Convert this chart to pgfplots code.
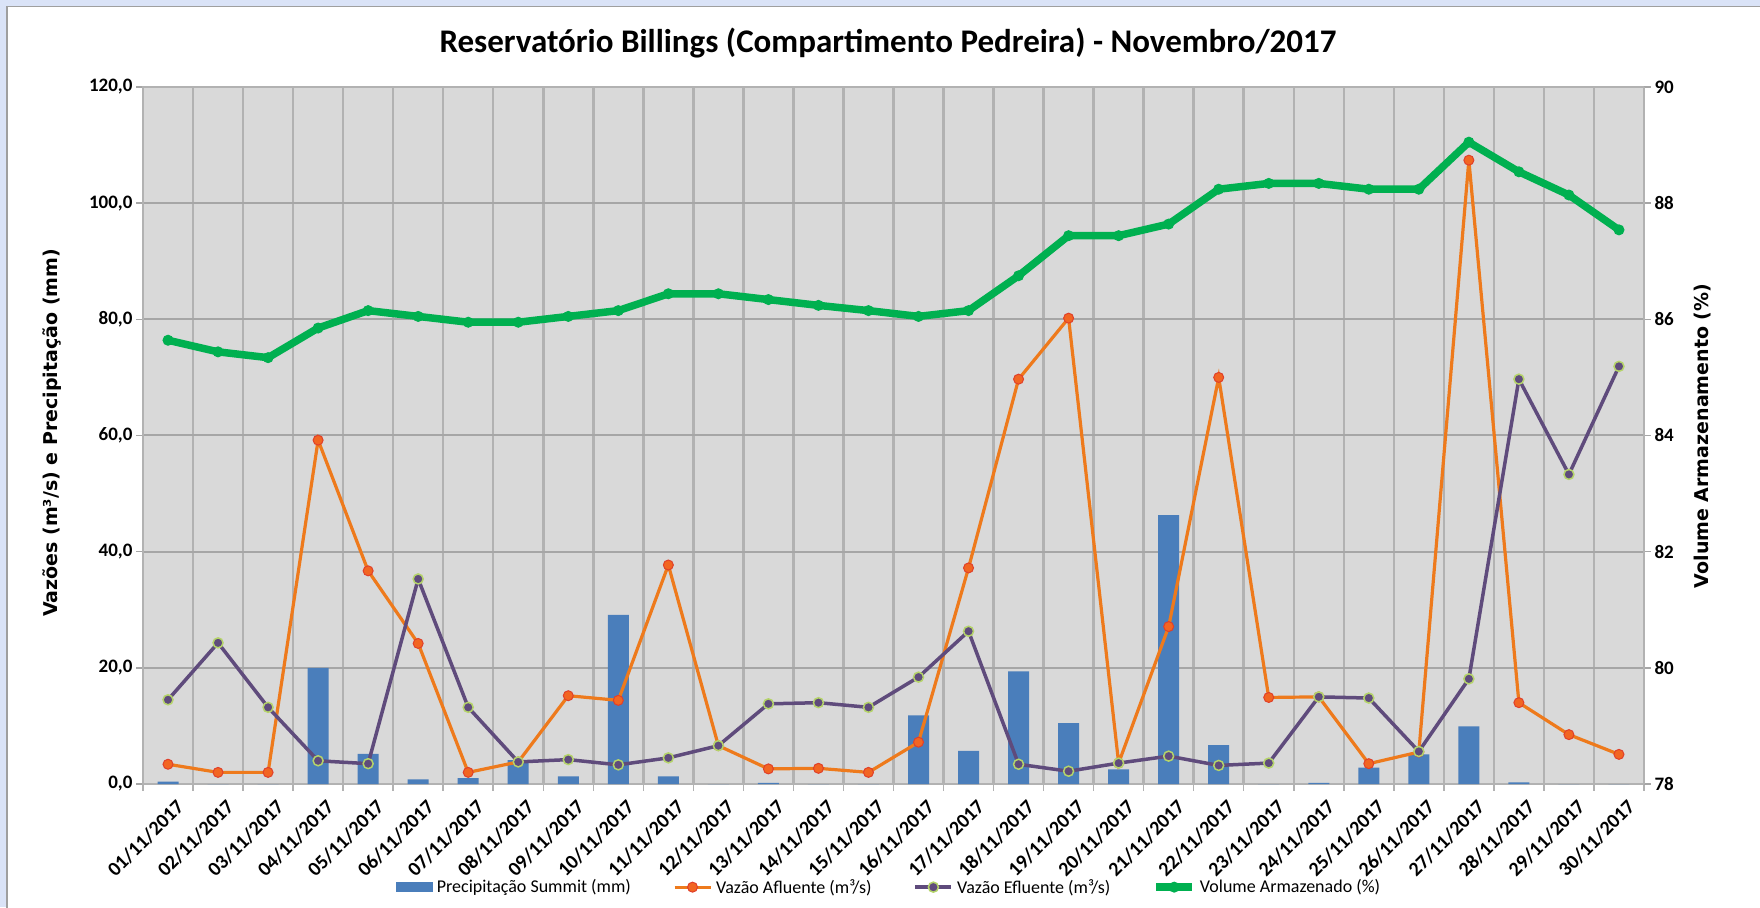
\documentclass[border=0pt]{standalone}
\usepackage{fontspec}
\setmainfont{Carlito}
\newfontfamily\dejavu{DejaVu Sans}
\usepackage{pgfplots}
\usepackage{pgfplotstable}
\pgfplotsset{compat=1.18}
\definecolor{bgblue}{HTML}{DAE3F7}
\definecolor{plotbg}{HTML}{D9D9D9}
\definecolor{gridc}{HTML}{B2B2B2}
\definecolor{gridh}{HTML}{A6A6A6}
\definecolor{barblue}{HTML}{4A7EBB}
\definecolor{orangeL}{HTML}{EE7A1C}
\definecolor{orangeM}{HTML}{F26522}
\definecolor{redE}{HTML}{E0402A}
\definecolor{purpleL}{HTML}{5F4B7C}
\definecolor{limeE}{HTML}{B5D46A}
\definecolor{greenL}{HTML}{00B050}

\pgfplotstableread{
x prec afl efl vol
1 0.4 3.4 14.5 85.64
2 0.0 2.0 24.3 85.44
3 0.0 2.0 13.2 85.34
4 20.0 59.2 4.0 85.85
5 5.2 36.7 3.5 86.15
6 0.8 24.2 35.3 86.05
7 1.0 2.0 13.2 85.95
8 4.1 3.8 3.8 85.95
9 1.3 15.2 4.2 86.05
10 29.1 14.4 3.3 86.15
11 1.3 37.7 4.5 86.44
12 0.0 6.6 6.6 86.44
13 0.2 2.6 13.8 86.34
14 0.0 2.7 14.0 86.24
15 0.0 2.0 13.2 86.15
16 11.8 7.2 18.4 86.05
17 5.7 37.2 26.3 86.15
18 19.4 69.7 3.4 86.75
19 10.5 80.2 2.2 87.44
20 2.5 3.6 3.6 87.44
21 46.3 27.1 4.8 87.64
22 6.7 70.0 3.2 88.24
23 0.0 14.9 3.6 88.34
24 0.2 15.0 15.0 88.34
25 2.8 3.5 14.8 88.24
26 5.1 5.5 5.6 88.24
27 9.9 107.4 18.1 89.05
28 0.3 14.0 69.7 88.54
29 0.0 8.5 53.3 88.14
30 0.0 5.1 71.9 87.54
}\datatable

\pgfplotsset{
  lineleg/.style={legend image code/.code={
    \draw[##1] (0pt,0pt) -- (36pt,0pt);
    \draw[##1, mark repeat=1] plot coordinates {(18pt,0pt)};}},
  orangestyle/.style={orangeL, line width=3.2pt, mark=*, mark size=5pt,
    mark options={fill=orangeM, draw=redE, line width=1pt}},
  purplestyle/.style={purpleL, line width=3.5pt, mark=*, mark size=5pt,
    mark options={fill=purpleL, draw=limeE, line width=1.5pt}},
  greenstyle/.style={greenL, line width=7.5pt, mark=*, mark size=5pt,
    mark options={fill=greenL, draw=greenL, line width=1pt}},
}

\begin{document}
\begin{tikzpicture}
\path[use as bounding box] (0pt,0pt) rectangle (1760pt,907pt);
\fill[bgblue] (0pt,0pt) rectangle (1760pt,907pt);
\filldraw[fill=white, draw=gray!75, line width=1.2pt] (7pt,-5pt) rectangle (1770pt,900.5pt);

\node[font=\bfseries\fontsize{33}{33}\selectfont] at (888pt,864pt) {Reservatório Billings (Compartimento Pedreira) - Novembro/2017};
\node[rotate=90, font=\dejavu\bfseries\fontsize{19}{19}\selectfont] at (52pt,474pt) {Vazões (m³/s) e Precipitação (mm)};
\node[rotate=90, font=\dejavu\bfseries\fontsize{19}{19}\selectfont] at (1703pt,471pt) {Volume Armazenamento (\%)};

\begin{axis}[
  at={(143pt,123pt)}, anchor=south west, scale only axis,
  width=1501pt, height=697pt,
  xmin=0.5, xmax=30.5, ymin=0, ymax=120,
  axis background/.style={fill=plotbg},
  axis line style={draw=gridc, line width=1.5pt},
  tick pos=left,
  tick align=outside,
  xtick={1,...,30},
  xticklabels={01/11/2017,02/11/2017,03/11/2017,04/11/2017,05/11/2017,06/11/2017,07/11/2017,08/11/2017,09/11/2017,10/11/2017,11/11/2017,12/11/2017,13/11/2017,14/11/2017,15/11/2017,16/11/2017,17/11/2017,18/11/2017,19/11/2017,20/11/2017,21/11/2017,22/11/2017,23/11/2017,24/11/2017,25/11/2017,26/11/2017,27/11/2017,28/11/2017,29/11/2017,30/11/2017},
  xticklabel style={rotate=45, anchor=north east, font=\bfseries\fontsize{20}{20}\selectfont, inner sep=1pt, yshift=-9pt, xshift=1pt},
  minor xtick={0.5,1.5,...,30.5},
  xminorgrids=true,
  minor x grid style={draw=gridc, line width=2.5pt},
  major x tick style={draw=none},
  minor x tick style={draw=gridc, line width=1.5pt},
  minor tick length=7pt,
  major tick length=7pt,
  ytick={0,20,...,120},
  yticklabels={{0,0},{20,0},{40,0},{60,0},{80,0},{100,0},{120,0}},
  yticklabel style={font=\bfseries\fontsize{19}{19}\selectfont},
  ymajorgrids=true,
  major y grid style={draw=gridh, line width=2pt},
  y tick style={draw=gridh, line width=1.5pt},
  legend columns=4,
  legend style={at={(0.497,-0.148)}, anchor=center, draw=none, fill=none,
    font=\fontsize{18}{18}\selectfont,
    /tikz/every odd column/.append style={column sep=2pt},
    /tikz/every even column/.append style={column sep=40pt}},
]
\addplot[ybar, bar width=21pt, fill=barblue, draw=none,
  legend image code/.code={\fill[barblue] (0pt,-5pt) rectangle (37pt,5pt);}]
  table[x=x, y=prec] {\datatable};
\addlegendentry{Precipitação Summit (mm)}
\addplot[orangestyle, lineleg] table[x=x, y=afl] {\datatable};
\addlegendentry{Vazão Afluente (m³/s)}
\addplot[purplestyle, lineleg] table[x=x, y=efl] {\datatable};
\addlegendentry{Vazão Efluente (m³/s)}
\addlegendimage{greenstyle, lineleg}
\addlegendentry{Volume Armazenado (\%)}
\end{axis}

\begin{axis}[
  at={(143pt,123pt)}, anchor=south west, scale only axis,
  width=1501pt, height=697pt,
  xmin=0.5, xmax=30.5, ymin=78, ymax=90,
  axis x line=none,
  axis y line*=right,
  axis line style={draw=gridc, line width=1.5pt, -},
  tick align=outside,
  major tick length=7pt,
  ytick={78,80,...,90},
  yticklabels={78,80,82,84,86,88,90},
  yticklabel style={font=\bfseries\fontsize{19}{19}\selectfont},
  y tick style={draw=gridh, line width=1.5pt},
]
\addplot[greenstyle] table[x=x, y=vol] {\datatable};
\end{axis}
\end{tikzpicture}
\end{document}
